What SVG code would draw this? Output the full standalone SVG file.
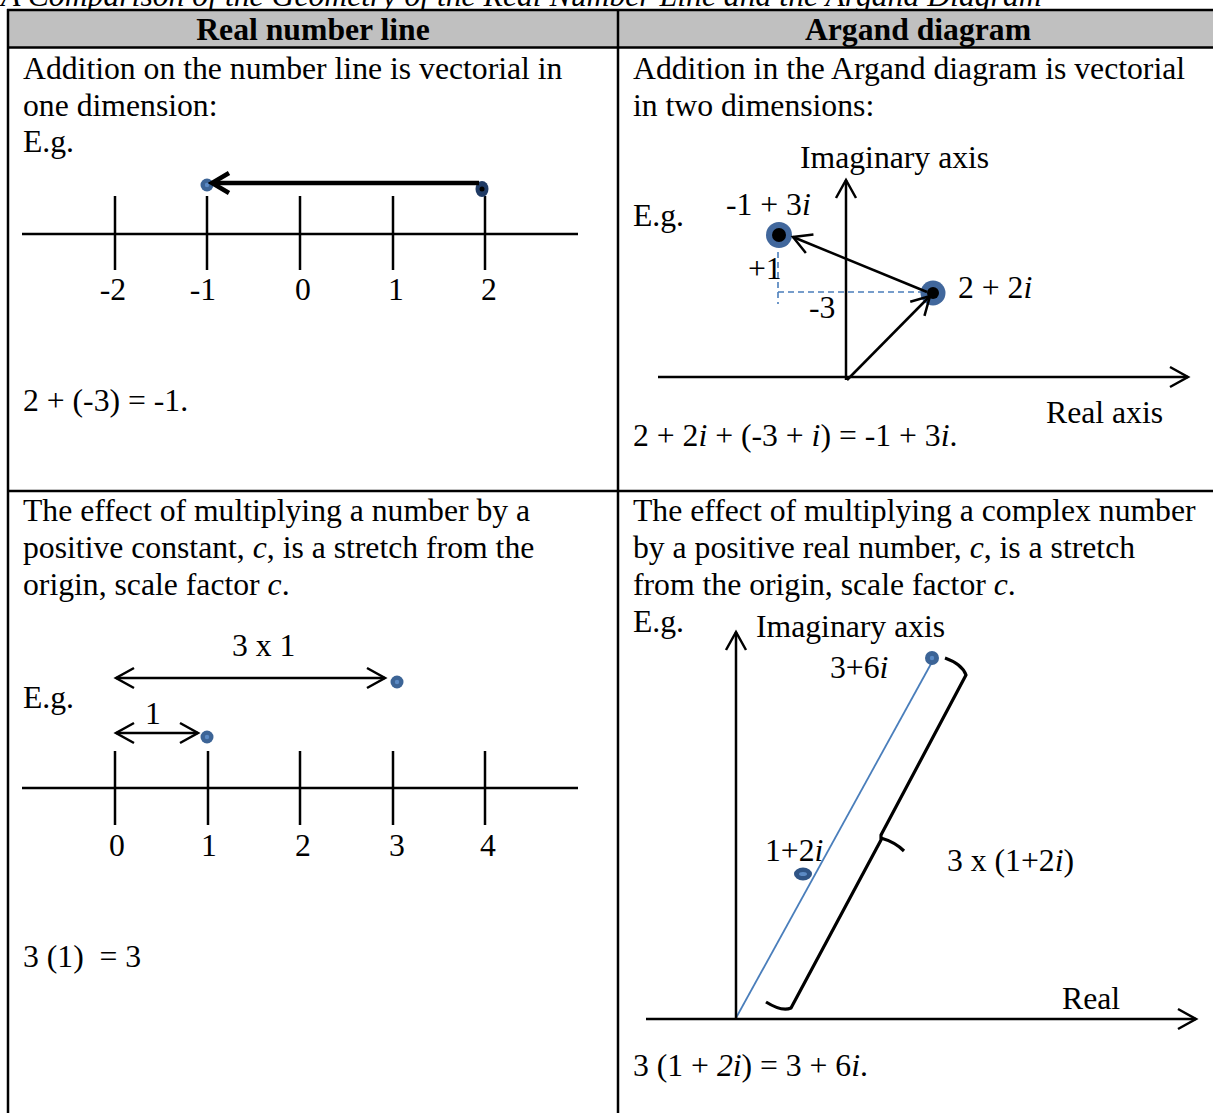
<svg xmlns="http://www.w3.org/2000/svg" width="1213" height="1113" viewBox="0 0 1213 1113">
<style>
text{font-family:"Liberation Serif","Times New Roman",serif;font-size:31.7px;fill:#000}
.b{font-weight:bold}
.it{font-style:italic}
.ln{stroke:#000;stroke-width:2.5;fill:none}
.thk{stroke:#000;stroke-width:4.5;fill:none}
.grid{stroke:#000;stroke-width:2.5;fill:none}
.blue{stroke:#4a7ebb;stroke-width:1.8;fill:none}
.dash{stroke:#4a7ebb;stroke-width:1.6;fill:none;stroke-dasharray:6 4}
.dot{fill:#3c6496}
.dotc{fill:#5b8ac4}
</style>
<defs>
<marker id="ah" markerUnits="userSpaceOnUse" markerWidth="24" markerHeight="26" viewBox="0 0 24 26" refX="21" refY="13" orient="auto-start-reverse">
<path d="M3,3 L21,13 L3,23" fill="none" stroke="#000" stroke-width="2.5"/>
</marker>
<marker id="ahT" markerUnits="userSpaceOnUse" markerWidth="26" markerHeight="28" viewBox="0 0 26 28" refX="20" refY="14" orient="auto">
<path d="M21,4 L4,14 L21,24" fill="none" stroke="#000" stroke-width="4.5" transform="rotate(180 13 14)"/>
</marker>
</defs>
<g id="title">
<text class="it" x="1" y="6">A Comparison of the Geometry of the Real Number Line and the Argand Diagram</text>
</g>
<g id="table">
<rect x="8" y="10" width="1210" height="37" fill="#c0c0c0"/>
<line class="grid" x1="7" y1="10" x2="1213" y2="10"/>
<line class="grid" x1="7" y1="47.5" x2="1213" y2="47.5"/>
<line class="grid" x1="7" y1="491" x2="1213" y2="491"/>
<line class="grid" x1="8" y1="9" x2="8" y2="1113"/>
<line class="grid" x1="618" y1="9" x2="618" y2="1113"/>
<text class="b" x="313" y="40" text-anchor="middle">Real number line</text>
<text class="b" x="918" y="40" text-anchor="middle">Argand diagram</text>
</g>
<g id="cell-real-addition">
<text x="23" y="79">Addition on the number line is vectorial in</text>
<text x="23" y="116">one dimension:</text>
<text x="23" y="152">E.g.</text>
<line class="ln" x1="22" y1="234" x2="578" y2="234"/>
<line class="ln" x1="115" y1="196" x2="115" y2="270"/>
<line class="ln" x1="207" y1="196" x2="207" y2="270"/>
<line class="ln" x1="300" y1="196" x2="300" y2="270"/>
<line class="ln" x1="393" y1="196" x2="393" y2="270"/>
<line class="ln" x1="485" y1="196" x2="485" y2="270"/>
<text x="113" y="300" text-anchor="middle">-2</text>
<text x="203" y="300" text-anchor="middle">-1</text>
<text x="303" y="300" text-anchor="middle">0</text>
<text x="396" y="300" text-anchor="middle">1</text>
<text x="489" y="300" text-anchor="middle">2</text>
<circle class="dot" cx="207" cy="185" r="6.5"/>
<circle class="dotc" cx="207" cy="185" r="2.2"/>
<ellipse cx="482" cy="189" rx="6.5" ry="8" fill="#1f3a64"/>
<circle cx="482" cy="189" r="2.5" fill="#000"/>
<text x="23" y="411">2 + (-3) = -1.</text>
</g>
<g id="cell-argand-addition">
<text x="633" y="79">Addition in the Argand diagram is vectorial</text>
<text x="633" y="116">in two dimensions:</text>
<text x="800" y="168">Imaginary axis</text>
<text x="633" y="226">E.g.</text>
<text x="726" y="215">-1 + 3<tspan class="it">i</tspan></text>
<text x="748" y="279">+1</text>
<text x="809" y="318">-3</text>
<text x="958" y="298">2 + 2<tspan class="it">i</tspan></text>
<text x="1046" y="423">Real axis</text>
<text x="633" y="446">2 + 2<tspan class="it">i</tspan> + (-3 + <tspan class="it">i</tspan>) = -1 + 3<tspan class="it">i</tspan>.</text>
<line class="dash" x1="778" y1="292" x2="927" y2="292"/>
<line class="dash" x1="778" y1="252" x2="778" y2="304"/>
<circle cx="779" cy="235" r="13" fill="#41679c"/>
<circle cx="779" cy="235" r="7" fill="#000"/>
<circle cx="933" cy="293" r="12.5" fill="#41679c"/>
<circle cx="933" cy="293" r="6" fill="#000"/>
</g>
<g id="cell-real-multiplication">
<text x="23" y="521">The effect of multiplying a number by a</text>
<text x="23" y="558">positive constant, <tspan class="it">c</tspan>, is a stretch from the</text>
<text x="23" y="595">origin, scale factor <tspan class="it">c</tspan>.</text>
<text x="232" y="656">3 x 1</text>
<text x="23" y="708">E.g.</text>
<text x="145" y="724">1</text>
<circle class="dot" cx="397" cy="682" r="6.5"/>
<circle class="dotc" cx="397" cy="682" r="2.2"/>
<circle class="dot" cx="207" cy="737" r="6.5"/>
<circle class="dotc" cx="207" cy="737" r="2.2"/>
<line class="ln" x1="22" y1="788" x2="578" y2="788"/>
<line class="ln" x1="115" y1="751" x2="115" y2="825"/>
<line class="ln" x1="208" y1="751" x2="208" y2="825"/>
<line class="ln" x1="300" y1="751" x2="300" y2="825"/>
<line class="ln" x1="393" y1="751" x2="393" y2="825"/>
<line class="ln" x1="485" y1="751" x2="485" y2="825"/>
<text x="117" y="856" text-anchor="middle">0</text>
<text x="209" y="856" text-anchor="middle">1</text>
<text x="303" y="856" text-anchor="middle">2</text>
<text x="397" y="856" text-anchor="middle">3</text>
<text x="488" y="856" text-anchor="middle">4</text>
<text x="23" y="967" xml:space="preserve">3 (1)  = 3</text>
</g>
<g id="cell-argand-multiplication">
<text x="633" y="521">The effect of multiplying a complex number</text>
<text x="633" y="558">by a positive real number, <tspan class="it">c</tspan>, is a stretch</text>
<text x="633" y="595">from the origin, scale factor <tspan class="it">c</tspan>.</text>
<text x="633" y="632">E.g.</text>
<text x="756" y="637">Imaginary axis</text>
<text x="830" y="678">3+6<tspan class="it">i</tspan></text>
<text x="765" y="861">1+2<tspan class="it">i</tspan></text>
<text x="947" y="871">3 x (1+2<tspan class="it">i</tspan>)</text>
<text x="1062" y="1009">Real</text>
<text x="633" y="1076">3 (1 + <tspan class="it">2i</tspan>) = 3 + 6<tspan class="it">i</tspan>.</text>
<line class="blue" x1="736" y1="1018" x2="932" y2="662"/>
<path d="M945,658 Q962,664 966,675 L881,835 L881,840 L791,1008 Q782,1012 766,1002 M881,838 Q895,842 904,851" fill="none" stroke="#000" stroke-width="3.2" stroke-linejoin="round"/>
<circle class="dot" cx="932" cy="658" r="7"/>
<circle class="dotc" cx="932" cy="658" r="2.2"/>
<ellipse cx="803" cy="874" rx="9" ry="6.5" fill="#2f5485"/>
<ellipse cx="803" cy="874" rx="4" ry="2" fill="#5b8ac4"/>
</g>
<g id="connectors">
<line class="thk" x1="479" y1="183" x2="214" y2="183" marker-end="url(#ahT)"/>
<line class="ln" x1="846" y1="380" x2="846" y2="180" marker-end="url(#ah)"/>
<line class="ln" x1="658" y1="377" x2="1188" y2="377" marker-end="url(#ah)"/>
<line class="ln" x1="927" y1="292" x2="793" y2="237" marker-end="url(#ah)"/>
<line class="ln" x1="847" y1="380" x2="930" y2="296" marker-end="url(#ah)"/>
<line class="ln" x1="116" y1="678" x2="385" y2="678" marker-start="url(#ah)" marker-end="url(#ah)"/>
<line class="ln" x1="116" y1="733" x2="198" y2="733" marker-start="url(#ah)" marker-end="url(#ah)"/>
<line class="ln" x1="736" y1="1018" x2="736" y2="632" marker-end="url(#ah)"/>
<line class="ln" x1="646" y1="1019" x2="1196" y2="1019" marker-end="url(#ah)"/>
</g>
</svg>
